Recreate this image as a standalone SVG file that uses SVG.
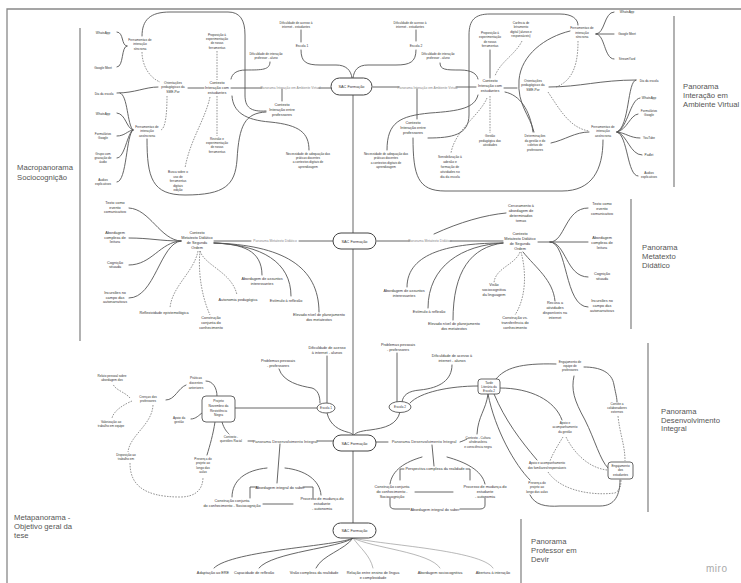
<svg xmlns="http://www.w3.org/2000/svg" width="741" height="583" viewBox="0 0 741 583">
<style>
text{font-family:"Liberation Sans",Arial,sans-serif;fill:#333;text-anchor:middle}
.t{font-size:3.8px}
.s{font-size:3.1px}
.s2{font-size:3.3px}
.lbl{font-size:3.3px;fill:#888}
.lb4{font-size:4px;fill:#444}
.pan{font-size:7.7px;fill:#555;text-anchor:start}
.miro{font-size:10px;fill:#aaa;text-anchor:start;letter-spacing:0.5px}
.c{fill:none;stroke:#555;stroke-width:0.9;stroke-linecap:round}
.cl{fill:none;stroke:#888;stroke-width:0.6;stroke-linecap:round}
.d{fill:none;stroke:#666;stroke-width:0.7;stroke-dasharray:1.6 1.2}
.sep{fill:none;stroke:#888;stroke-width:1.3}
.pill{fill:#fff;stroke:#444;stroke-width:1}
.box{fill:#fff;stroke:#555;stroke-width:0.9}
</style>
<rect width="741" height="583" fill="#fff"/>
<g id="frame">
<path class="sep" d="M7,583 V9 H741" stroke-width="1"/>
<path class="sep" d="M80,28 V341"/>
<path class="sep" d="M674,16 V187"/>
<path class="sep" d="M631,199 V329"/>
<path class="sep" d="M648,343 V512"/>
<path class="sep" d="M521,519 V583"/>
</g>
<g id="connectors">
<path class="c" d="M353,95 V233 M353,249 V435 M353,451 V523"/>
<path class="c" d="M117,32 C124,32 121,46 127,46 M117,67 C124,67 121,46 127,46"/>
<path class="c" d="M142,36 C142,20 150,12 170,12 H228 C240,12 245,20 245,35 V95 C245,107 250,112 266,111"/>
<path class="d" d="M142,52 C142,66 150,78 160,82"/>
<path class="c" d="M117,93 C135,93 145,87 158,87 M188,88 H204"/>
<path class="c" d="M120,93 C128,95 127,125 133,130 M117,113 C126,114 126,128 133,130 M117,136 C125,136 127,131 133,130 M117,158 C125,158 127,133 133,130 M117,182 C127,182 126,134 133,130"/>
<path class="d" d="M167,96 C167,110 166,128 161,130"/>
<path class="c" d="M147,139 C147,178 152,195 185,195 C225,195 235,185 237,160 C239,125 245,113 266,112"/>
<path class="c" d="M231,88 H262 M319,88 H331"/>
<path class="c" d="M282,89 V101"/>
<path class="c" d="M301,30 V42"/>
<path class="c" d="M301,50 C301,62 306,65 320,65 H336 C346,65 351,70 352,78"/>
<path class="c" d="M416,50 C416,62 410,65 396,65 H368 C358,65 354,70 353,78"/>
<path class="c" d="M270,62 C270,70 262,70 246,70 C236,70 232,74 231,79"/>
<path class="d" d="M217,51 V80 M217,96 V136"/>
<path class="d" d="M210,97 C205,120 190,140 185,168"/>
<path class="c" d="M232,96 C233,112 245,120 270,122 C300,125 309,133 309,150"/>
<path class="c" d="M373,87 H399 M456,87 H476"/>
<path class="c" d="M440,63 C440,70 446,70 460,70 C472,70 477,74 478,79"/>
<path class="c" d="M416,30 V41"/>
<path class="c" d="M490,50 V78"/>
<path class="d" d="M522,41 C515,55 500,62 495,76"/>
<path class="c" d="M504,88 H517"/>
<path class="c" d="M549,87 C580,87 600,80 636,80"/>
<path class="c" d="M636,80 C627,81 630,126 617,132 M640,98 C630,99 628,128 617,132 M638,114 C630,115 627,130 617,132 M640,138 C630,138 626,133 617,132 M642,155 C630,155 627,134 617,132 M638,176 C627,176 628,135 617,132"/>
<path class="c" d="M596,34 C605,34 604,12 614,12 M596,34 H614 M596,34 C605,34 604,59 614,59"/>
<path class="d" d="M578,41 C578,60 575,80 556,87"/>
<path class="d" d="M548,92 C560,110 570,128 589,131"/>
<path class="d" d="M490,96 V133"/>
<path class="c" d="M505,92 C520,95 530,110 533,132"/>
<path class="c" d="M570,31 C545,37 521,55 519,80 C517,105 530,115 534,132"/>
<path class="c" d="M551,143 C565,140 575,132 589,132"/>
<path class="c" d="M417,89 V119"/>
<path class="c" d="M478,95 C475,108 460,111 430,113 C400,116 387,122 387,150"/>
<path class="c" d="M428,138 C452,138 469,135 469,115 V35 C469,20 475,14 490,14 H560 C572,14 578,19 578,25"/>
<path class="c" d="M413,138 C413,176 418,191 445,191 H562 C592,191 603,170 603,140"/>
<path class="d" d="M487,98 C480,115 455,130 451,153"/>
<path class="c" d="M129,208 C150,209 160,240 181,241 M129,238 C150,238 160,241 181,241 M129,265 C152,265 160,242 181,241 M129,298 C155,298 160,243 181,241"/>
<path class="c" d="M214,241 H251 M299,241 H333"/>
<path class="c" d="M214,243 C242,244 262,250 262,275"/>
<path class="c" d="M214,243 C262,245 291,262 291,296"/>
<path class="c" d="M214,243 C282,245 319,266 319,312"/>
<path class="d" d="M200,251 C205,266 232,272 237,295"/>
<path class="d" d="M200,251 C198,270 201,295 210,315"/>
<path class="d" d="M198,251 C194,272 172,286 170,308"/>
<path class="c" d="M377,241 H410 M450,241 H503"/>
<path class="c" d="M434,234 C460,222 485,215 506,213"/>
<path class="c" d="M503,243 C452,243 407,252 407,287"/>
<path class="c" d="M503,243 C462,245 428,266 428,308"/>
<path class="c" d="M503,243 C471,247 453,271 453,320"/>
<path class="d" d="M520,252 C515,265 495,268 494,283"/>
<path class="d" d="M521,252 C526,270 527,296 515,315"/>
<path class="c" d="M523,252 C536,268 553,280 555,301"/>
<path class="c" d="M538,242 H550 C565,242 565,208 588,208 M550,242 H588 M550,242 C566,242 566,277 588,277 M550,242 C568,242 564,307 588,307"/>
<path class="c" d="M327,356 V403"/>
<path class="c" d="M279,369 C283,382 300,386 312,388 C318,390 320,396 320,403"/>
<path class="c" d="M327,413 C330,426 340,430 347,432 C351,433 353,434 353,435"/>
<path class="c" d="M235,408 H317"/>
<path class="c" d="M166,400 C175,400 178,388 186,385"/>
<path class="c" d="M206,381 C213,381 217,388 217,396"/>
<path class="c" d="M191,419 C196,419 199,415 202,413"/>
<path class="c" d="M222,422 C224,429 227,432 229,434"/>
<path class="c" d="M215,422 C213,435 210,445 207,455"/>
<path class="d" d="M130,398 C125,392 115,390 113,384"/>
<path class="d" d="M132,401 C125,404 114,410 112,418"/>
<path class="d" d="M153,405 C152,425 130,435 128,452"/>
<path class="d" d="M130,463 C130,482 140,497 180,497 C195,497 203,490 203,477"/>
<path class="c" d="M248,441 H253 M317,441 H333"/>
<path class="c" d="M280,444 L277,483"/>
<path class="c" d="M267,468 C246,470 232,480 232,497 M285,468 C305,470 320,480 321,495"/>
<path class="c" d="M250,498 V487 H257 M303,487 H313 V498"/>
<path class="c" d="M263,504 H293"/>
<path class="c" d="M400,412 C397,425 385,428 370,430 C360,431 355,433 354,435"/>
<path class="c" d="M376,442 H388 M460,442 C463,441 465,440 467,439"/>
<path class="c" d="M432,445 L434,466"/>
<path class="c" d="M422,457 C405,462 392,470 390,484 M447,457 C465,462 482,470 485,484"/>
<path class="c" d="M400,480 V469 H404 M466,469 H470 V480"/>
<path class="c" d="M415,492 H453"/>
<path class="c" d="M390,498 V505 Q390,509 395,509 H410 M460,509 H480 Q485,509 485,505 V498"/>
<path class="c" d="M452,365 C452,380 440,388 420,390 C408,391 403,395 402,402"/>
<path class="c" d="M397,353 V402"/>
<path class="c" d="M410,403 C420,392 450,386 478,386"/>
<path class="c" d="M488,394 C486,410 478,416 477,434"/>
<path class="c" d="M496,379 C505,368 520,363 556,364"/>
<path class="c" d="M584,367 C600,367 612,372 614,385 C616,395 617,398 617,402"/>
<path class="c" d="M574,376 C571,390 574,400 585,420 C595,440 600,460 608,468"/>
<path class="c" d="M500,388 C530,388 555,400 562,420"/>
<path class="c" d="M494,394 C505,420 520,440 537,460"/>
<path class="c" d="M488,394 C495,430 515,465 530,480"/>
<path class="c" d="M530,495 C535,505 545,507 560,506 H600 C615,506 620,495 620,480"/>
<path class="d" d="M618,416 C620,435 625,445 625,461"/>
<path class="d" d="M566,437 C575,455 590,468 607,470"/>
<path class="d" d="M563,437 C558,445 552,455 550,461"/>
<path class="d" d="M548,472 C560,490 590,496 615,493 C620,490 621,486 621,480"/>
<path class="c" d="M353,538 C340,546 232,550 214,568"/>
<path class="c" d="M353,538 C340,548 272,552 259,568"/>
<path class="c" d="M353,538 C345,550 322,555 316,568"/>
<path class="cl" d="M353,538 C360,548 370,555 373,568"/>
<path class="cl" d="M353,538 C372,548 430,552 440,568"/>
<path class="cl" d="M353,538 C382,545 482,550 493,568"/>
</g>
<g id="n-sac1"><rect class="pill" x="331" y="78" width="41" height="17" rx="8.5"/><text class="t" x="351.5" y="88">SAC Formação</text></g>
<g id="n-sac2"><rect class="pill" x="333" y="233" width="43" height="16" rx="8"/><text class="t" x="354.5" y="242.5">SAC Formação</text></g>
<g id="n-sac3"><rect class="pill" x="333" y="435" width="43" height="16" rx="8"/><text class="t" x="354.5" y="444.5">SAC Formação</text></g>
<g id="n-sac4"><rect class="pill" x="333" y="523" width="43" height="15" rx="7.5"/><text class="t" x="354.5" y="532">SAC Formação</text></g>
<g id="lbl-piav-l"><text class="lbl" x="290.5" y="88.8">Panorama Interação em Ambiente Virtual</text></g>
<g id="lbl-piav-r"><text class="lbl" x="427.5" y="88.8">Panorama Interação em Ambiente Virtual</text></g>
<g id="lbl-pmd-l"><text class="lbl" x="275" y="242.3">Panorama Metatexto Didático</text></g>
<g id="lbl-pmd-r"><text class="lbl" x="430" y="242.3">Panorama Metatexto Didático</text></g>
<g id="lbl-pdi-l"><text class="lb4" x="285" y="442.5">Panorama Desenvolvimento Integral</text></g>
<g id="lbl-pdi-r"><text class="lb4" x="424" y="443.3">Panorama Desenvolvimento Integral</text></g>
<g id="n-wa1"><text class="s" x="103" y="34">WhatsApp</text></g>
<g id="n-meet1"><text class="s" x="103" y="69">Google Meet</text></g>
<g id="n-fsinc-l"><text class="s2" x="140" y="40.5"><tspan x="140">Ferramentas de</tspan><tspan x="140" dy="4.6">interação</tspan><tspan x="140" dy="4.6">síncrona</tspan></text></g>
<g id="n-orient-l"><text class="s2" x="173" y="84"><tspan x="173">Orientações</tspan><tspan x="173" dy="4.4">pedagógicas da</tspan><tspan x="173" dy="4.4">SME-Por</tspan></text></g>
<g id="n-dia-l"><text class="s" x="104" y="94.5">Dia da escola</text></g>
<g id="n-wa2"><text class="s" x="103" y="114.5">WhatsApp</text></g>
<g id="n-form-l"><text class="s" x="103" y="135"><tspan x="103">Formulários</tspan><tspan x="103" dy="4.2">Google</tspan></text></g>
<g id="n-grupo"><text class="s" x="103" y="154.5"><tspan x="103">Grupo com</tspan><tspan x="103" dy="4.3">gravação de</tspan><tspan x="103" dy="4.3">áudio</tspan></text></g>
<g id="n-aud-l"><text class="s" x="103" y="181"><tspan x="103">Áudios</tspan><tspan x="103" dy="4.2">explicativos</tspan></text></g>
<g id="n-fasinc-l"><text class="s2" x="147" y="127.5"><tspan x="147">Ferramentas de</tspan><tspan x="147" dy="4.5">interação</tspan><tspan x="147" dy="4.5">assíncrona</tspan></text></g>
<g id="n-busca"><text class="s" x="178" y="173"><tspan x="178">Busca sobre o</tspan><tspan x="178" dy="4.5">uso de</tspan><tspan x="178" dy="4.5">ferramentas</tspan><tspan x="178" dy="4.5">digitais</tspan><tspan x="178" dy="4.5">edição</tspan></text></g>
<g id="n-prop-l"><text class="s" x="217" y="35.5"><tspan x="217">Proposição à</tspan><tspan x="217" dy="4.4">experimentação</tspan><tspan x="217" dy="4.4">de novas</tspan><tspan x="217" dy="4.4">ferramentas</tspan></text></g>
<g id="n-difint-l"><text class="s" x="266" y="55"><tspan x="266">Dificuldade de interação</tspan><tspan x="266" dy="4.4">professor - aluno</tspan></text></g>
<g id="n-difac1"><text class="s" x="296" y="23.5"><tspan x="296">Dificuldade de acesso à</tspan><tspan x="296" dy="4.2">internet - estudantes</tspan></text></g>
<g id="n-escola1-top"><text class="s2" x="302" y="47">Escola 1</text></g>
<g id="n-ctx-est-l"><text class="t" x="217" y="83.5"><tspan x="217">Contexto</tspan><tspan x="217" dy="5">Interação com</tspan><tspan x="217" dy="5">estudantes</tspan></text></g>
<g id="n-ctx-prof-l"><text class="t" x="282" y="105.5"><tspan x="282">Contexto</tspan><tspan x="282" dy="5">Interação entre</tspan><tspan x="282" dy="5">professores</tspan></text></g>
<g id="n-nec-l"><text class="s" x="308" y="154.5"><tspan x="308">Necessidade de adequação das</tspan><tspan x="308" dy="4.4">práticas docentes</tspan><tspan x="308" dy="4.4">a contextos digitais de</tspan><tspan x="308" dy="4.4">aprendizagem</tspan></text></g>
<g id="n-rev-l"><text class="s" x="217" y="139.5"><tspan x="217">Revisão e</tspan><tspan x="217" dy="4.4">experimentação</tspan><tspan x="217" dy="4.4">de novas</tspan><tspan x="217" dy="4.4">ferramentas</tspan></text></g>
<g id="n-difac2"><text class="s" x="410" y="23.5"><tspan x="410">Dificuldade de acesso à</tspan><tspan x="410" dy="4.2">internet - estudantes</tspan></text></g>
<g id="n-escola2-top"><text class="s2" x="416" y="46.5">Escola 2</text></g>
<g id="n-difint-r"><text class="s" x="438" y="55"><tspan x="438">Dificuldade de interação</tspan><tspan x="438" dy="4.4">professor - aluno</tspan></text></g>
<g id="n-ctx-est-r"><text class="t" x="490" y="82"><tspan x="490">Contexto</tspan><tspan x="490" dy="5">Interação com</tspan><tspan x="490" dy="5">estudantes</tspan></text></g>
<g id="n-prop-r"><text class="s" x="490" y="34"><tspan x="490">Proposição à</tspan><tspan x="490" dy="4.4">experimentação</tspan><tspan x="490" dy="4.4">de novas</tspan><tspan x="490" dy="4.4">ferramentas</tspan></text></g>
<g id="n-car"><text class="s" x="521" y="24"><tspan x="521">Carência de</tspan><tspan x="521" dy="4.4">letramento</tspan><tspan x="521" dy="4.4">digital (alunos e</tspan><tspan x="521" dy="4.4">responsáveis)</tspan></text></g>
<g id="n-orient-r"><text class="s2" x="533" y="82"><tspan x="533">Orientações</tspan><tspan x="533" dy="4.4">pedagógicas da</tspan><tspan x="533" dy="4.4">SME-Por</tspan></text></g>
<g id="n-gestao"><text class="s" x="490" y="137"><tspan x="490">Gestão</tspan><tspan x="490" dy="4.5">pedagógica das</tspan><tspan x="490" dy="4.5">atividades</tspan></text></g>
<g id="n-determ"><text class="s" x="535" y="137"><tspan x="535">Determinações</tspan><tspan x="535" dy="4.5">da gestão e do</tspan><tspan x="535" dy="4.5">coletivo de</tspan><tspan x="535" dy="4.5">professores</tspan></text></g>
<g id="n-ctx-prof-r"><text class="t" x="413" y="124"><tspan x="413">Contexto</tspan><tspan x="413" dy="5">Interação entre</tspan><tspan x="413" dy="5">professores</tspan></text></g>
<g id="n-nec-r"><text class="s" x="386" y="155"><tspan x="386">Necessidade de adequação das</tspan><tspan x="386" dy="4.4">práticas docentes</tspan><tspan x="386" dy="4.4">a contextos digitais de</tspan><tspan x="386" dy="4.4">aprendizagem</tspan></text></g>
<g id="n-sens"><text class="s2" x="450" y="158"><tspan x="450">Sensibilização à</tspan><tspan x="450" dy="5">adesão e</tspan><tspan x="450" dy="5">formação de</tspan><tspan x="450" dy="5">atividades no</tspan><tspan x="450" dy="5">dia da escola</tspan></text></g>
<g id="n-fsinc-r"><text class="s2" x="582" y="29"><tspan x="582">Ferramentas de</tspan><tspan x="582" dy="4.5">interação</tspan><tspan x="582" dy="4.5">síncrona</tspan></text></g>
<g id="n-wa-r1"><text class="s" x="627" y="12.5">WhatsApp</text></g>
<g id="n-meet-r"><text class="s" x="627" y="35">Google Meet</text></g>
<g id="n-stream"><text class="s" x="627" y="60">StreamYard</text></g>
<g id="n-dia-r"><text class="s" x="649" y="81.5">Dia da escola</text></g>
<g id="n-wa-r2"><text class="s" x="649" y="98.5">WhatsApp</text></g>
<g id="n-form-r"><text class="s" x="649" y="112"><tspan x="649">Formulários</tspan><tspan x="649" dy="4.4">Google</tspan></text></g>
<g id="n-yt"><text class="s" x="649" y="138.5">YouTube</text></g>
<g id="n-padlet"><text class="s" x="649" y="155.5">Padlet</text></g>
<g id="n-aud-r"><text class="s" x="649" y="174"><tspan x="649">Áudios</tspan><tspan x="649" dy="4.4">explicativos</tspan></text></g>
<g id="n-fasinc-r"><text class="s2" x="603" y="127.5"><tspan x="603">Ferramentas de</tspan><tspan x="603" dy="4.5">interação</tspan><tspan x="603" dy="4.5">assíncrona</tspan></text></g>
<g id="n-txt-l"><text class="t" x="115" y="204"><tspan x="115">Texto como</tspan><tspan x="115" dy="4.6">evento</tspan><tspan x="115" dy="4.6">comunicativo</tspan></text></g>
<g id="n-abc-l"><text class="t" x="115" y="234"><tspan x="115">Abordagem</tspan><tspan x="115" dy="4.6">complexa de</tspan><tspan x="115" dy="4.6">leitura</tspan></text></g>
<g id="n-cog-l"><text class="t" x="115" y="263.5"><tspan x="115">Cognição</tspan><tspan x="115" dy="4.6">situada</tspan></text></g>
<g id="n-inc-l"><text class="t" x="115" y="294"><tspan x="115">Incursões no</tspan><tspan x="115" dy="4.6">campo das</tspan><tspan x="115" dy="4.6">autonarrativas</tspan></text></g>
<g id="n-ctxmeta-l"><text class="t" x="197" y="233.5"><tspan x="197">Contexto</tspan><tspan x="197" dy="5">Metatexto Didático</tspan><tspan x="197" dy="5">de Segunda</tspan><tspan x="197" dy="5">Ordem</tspan></text></g>
<g id="n-refl"><text class="t" x="164" y="313.5">Reflexividade epistemológica</text></g>
<g id="n-auto"><text class="t" x="238" y="300.5">Autonomia pedagógica</text></g>
<g id="n-constr-l"><text class="t" x="211" y="319"><tspan x="211">Construção</tspan><tspan x="211" dy="5">conjunta do</tspan><tspan x="211" dy="5">conhecimento</tspan></text></g>
<g id="n-abass-l"><text class="t" x="262" y="279.5"><tspan x="262">Abordagem de assuntos</tspan><tspan x="262" dy="5">interessantes</tspan></text></g>
<g id="n-estim-l"><text class="t" x="286" y="301.5">Estímulo à reflexão</text></g>
<g id="n-elev-l"><text class="t" x="319" y="316"><tspan x="319">Elevado nível de planejamento</tspan><tspan x="319" dy="5">dos metatextos</tspan></text></g>
<g id="n-cerc"><text class="t" x="521" y="206.5"><tspan x="521">Cerceamento à</tspan><tspan x="521" dy="5">abordagem de</tspan><tspan x="521" dy="5">determinados</tspan><tspan x="521" dy="5">temas</tspan></text></g>
<g id="n-ctxmeta-r"><text class="t" x="520" y="234.5"><tspan x="520">Contexto</tspan><tspan x="520" dy="5">Metatexto Didático</tspan><tspan x="520" dy="5">de Segunda</tspan><tspan x="520" dy="5">Ordem</tspan></text></g>
<g id="n-abass-r"><text class="t" x="404" y="291.5"><tspan x="404">Abordagem de assuntos</tspan><tspan x="404" dy="5">interessantes</tspan></text></g>
<g id="n-estim-r"><text class="t" x="429" y="313">Estímulo à reflexão</text></g>
<g id="n-elev-r"><text class="t" x="454" y="324.5"><tspan x="454">Elevado nível de planejamento</tspan><tspan x="454" dy="5">dos metatextos</tspan></text></g>
<g id="n-visao"><text class="t" x="494" y="285.5"><tspan x="494">Visão</tspan><tspan x="494" dy="5">sociocognitiva</tspan><tspan x="494" dy="5">da linguagem</tspan></text></g>
<g id="n-constrvs"><text class="t" x="515" y="318.5"><tspan x="515">Construção vs.</tspan><tspan x="515" dy="5">transferência do</tspan><tspan x="515" dy="5">conhecimento</tspan></text></g>
<g id="n-recusa"><text class="t" x="555" y="304"><tspan x="555">Recusa a</tspan><tspan x="555" dy="5">atividades</tspan><tspan x="555" dy="5">disponíveis na</tspan><tspan x="555" dy="5">internet</tspan></text></g>
<g id="n-txt-r"><text class="t" x="602" y="204.5"><tspan x="602">Texto como</tspan><tspan x="602" dy="5">evento</tspan><tspan x="602" dy="5">comunicativo</tspan></text></g>
<g id="n-abc-r"><text class="t" x="602" y="238.5"><tspan x="602">Abordagem</tspan><tspan x="602" dy="5">complexa de</tspan><tspan x="602" dy="5">leitura</tspan></text></g>
<g id="n-cog-r"><text class="t" x="602" y="274.5"><tspan x="602">Cognição</tspan><tspan x="602" dy="5">situada</tspan></text></g>
<g id="n-inc-r"><text class="t" x="602" y="301.5"><tspan x="602">Incursões no</tspan><tspan x="602" dy="5">campo das</tspan><tspan x="602" dy="5">autonarrativas</tspan></text></g>
<g id="n-difac3"><text class="t" x="327" y="348.5"><tspan x="327">Dificuldade de acesso</tspan><tspan x="327" dy="5">à internet - alunos</tspan></text></g>
<g id="n-prob1"><text class="t" x="278" y="361.5"><tspan x="278">Problemas pessoais</tspan><tspan x="278" dy="5">- professores</tspan></text></g>
<g id="n-relato"><text class="s" x="112" y="376.5"><tspan x="112">Relato pessoal sobre</tspan><tspan x="112" dy="4.4">abordagem dos</tspan></text></g>
<g id="n-crencas"><text class="s" x="148" y="398"><tspan x="148">Crenças dos</tspan><tspan x="148" dy="4.4">professores</tspan></text></g>
<g id="n-valor"><text class="s" x="111" y="423"><tspan x="111">Valorização ao</tspan><tspan x="111" dy="4.4">trabalho em equipe</tspan></text></g>
<g id="n-disp"><text class="s" x="126" y="455.5"><tspan x="126">Disposição ao</tspan><tspan x="126" dy="4.4">trabalho em</tspan></text></g>
<g id="n-praticas"><text class="s2" x="196" y="379"><tspan x="196">Práticas</tspan><tspan x="196" dy="4.8">docentes</tspan><tspan x="196" dy="4.8">anteriores</tspan></text></g>
<g id="n-apoio-l"><text class="s" x="179" y="418.5"><tspan x="179">Apoio da</tspan><tspan x="179" dy="4.4">gestão</tspan></text></g>
<g id="n-projeto"><rect class="box" x="202" y="396" width="33" height="26" rx="4"/><text class="s2" x="218.5" y="402"><tspan x="218.5">Projeto</tspan><tspan x="218.5" dy="4.8">Novembro da</tspan><tspan x="218.5" dy="4.8">Resistência</tspan><tspan x="218.5" dy="4.8">Negra</tspan></text></g>
<g id="n-escola1"><ellipse class="box" cx="326" cy="408" rx="9" ry="5"/><text class="s" x="326" y="409.2">Escola 1</text></g>
<g id="n-ctxrac"><text class="s" x="231" y="437.5"><tspan x="231">Contexto -</tspan><tspan x="231" dy="4.4">questões Racial</tspan></text></g>
<g id="n-pres-l"><text class="s" x="203" y="459.5"><tspan x="203">Presença do</tspan><tspan x="203" dy="4.5">projeto ao</tspan><tspan x="203" dy="4.5">longo das</tspan><tspan x="203" dy="4.5">aulas</tspan></text></g>
<g id="n-abint-l"><text class="t" x="280" y="488.8">Abordagem integral do saber</text></g>
<g id="n-constr3-l"><text class="t" x="232" y="501.5"><tspan x="232">Construção conjunta</tspan><tspan x="232" dy="5">do conhecimento - Sociocognição</tspan></text></g>
<g id="n-proc-l"><text class="t" x="322" y="499.5"><tspan x="322">Processo de mudança do</tspan><tspan x="322" dy="5">estudante</tspan><tspan x="322" dy="5">- autonomia</tspan></text></g>
<g id="n-prob2"><text class="t" x="398" y="345.5"><tspan x="398">Problemas pessoais</tspan><tspan x="398" dy="5">- professores</tspan></text></g>
<g id="n-difac4"><text class="t" x="452" y="357"><tspan x="452">Dificuldade de acesso à</tspan><tspan x="452" dy="5">internet - alunos</tspan></text></g>
<g id="n-escola2"><ellipse class="box" cx="400" cy="407" rx="11" ry="5.5"/><text class="s" x="400" y="408.3">Escola 2</text></g>
<g id="n-projr"><rect class="box" x="478" y="379" width="22" height="15" rx="3"/><text class="s" x="489" y="383.5"><tspan x="489">Tarde</tspan><tspan x="489" dy="4.2">Literária da</tspan><tspan x="489" dy="4.2">Escola 2</tspan></text></g>
<g id="n-engeq"><text class="s" x="570" y="362.5"><tspan x="570">Engajamento de</tspan><tspan x="570" dy="4.4">equipe de</tspan><tspan x="570" dy="4.4">professores</tspan></text></g>
<g id="n-convite"><text class="s" x="617" y="404.5"><tspan x="617">Convite a</tspan><tspan x="617" dy="4.4">colaboradores</tspan><tspan x="617" dy="4.4">externos</tspan></text></g>
<g id="n-apoioges-r"><text class="s" x="565" y="423.5"><tspan x="565">Apoio e</tspan><tspan x="565" dy="4.6">acompanhamento</tspan><tspan x="565" dy="4.6">da gestão</tspan></text></g>
<g id="n-apoiofam"><text class="s" x="547" y="464"><tspan x="547">Apoio e acompanhamento</tspan><tspan x="547" dy="4.6">dos familiares/responsáveis</tspan></text></g>
<g id="n-pres-r"><text class="s" x="537" y="483.5"><tspan x="537">Presença do</tspan><tspan x="537" dy="4.6">projeto ao</tspan><tspan x="537" dy="4.6">longo das aulas</tspan></text></g>
<g id="n-engest"><rect class="box" x="608" y="462" width="25" height="17" rx="3"/><text class="s" x="620.5" y="467"><tspan x="620.5">Engajamento</tspan><tspan x="620.5" dy="4.4">dos</tspan><tspan x="620.5" dy="4.4">estudantes</tspan></text></g>
<g id="n-ctxcult"><text class="s" x="478" y="438.5"><tspan x="478">Contexto - Cultura</tspan><tspan x="478" dy="4.8">afrobrasileira</tspan><tspan x="478" dy="4.8">e consciência negra</tspan></text></g>
<g id="n-persp"><text class="t" x="435" y="470.3">Perspectiva complexa da realidade</text></g>
<g id="n-constr3-r"><text class="t" x="392" y="487.5"><tspan x="392">Construção conjunta</tspan><tspan x="392" dy="5">do conhecimento -</tspan><tspan x="392" dy="5">Sociocognição</tspan></text></g>
<g id="n-proc-r"><text class="t" x="485" y="487.5"><tspan x="485">Processo de mudança do</tspan><tspan x="485" dy="5">estudante</tspan><tspan x="485" dy="5">- autonomia</tspan></text></g>
<g id="n-abint-r"><text class="t" x="435" y="510.5">Abordagem integral do saber</text></g>
<g id="n-adapt"><text class="t" x="213" y="574">Adaptação ao ERE</text></g>
<g id="n-capac"><text class="t" x="254" y="574">Capacidade de reflexão</text></g>
<g id="n-visaoc"><text class="t" x="314" y="574">Visão complexa da realidade</text></g>
<g id="n-relac"><text class="t" x="373" y="574"><tspan x="373">Relação entre ensino de língua</tspan><tspan x="373" dy="4.6">e complexidade</tspan></text></g>
<g id="n-absoc"><text class="t" x="440" y="574">Abordagem sociocognitiva</text></g>
<g id="n-abert"><text class="t" x="493" y="574">Abertura à interação</text></g>
<g id="p-macro"><text class="pan" x="17" y="170"><tspan x="17">Macropanorama</tspan><tspan x="17" dy="9.5">Sociocognição</tspan></text></g>
<g id="p-piav"><text class="pan" x="683" y="89"><tspan x="683">Panorama</tspan><tspan x="683" dy="9">Interação em</tspan><tspan x="683" dy="9">Ambiente Virtual</tspan></text></g>
<g id="p-pmd"><text class="pan" x="642" y="250"><tspan x="642">Panorama</tspan><tspan x="642" dy="9">Metatexto</tspan><tspan x="642" dy="9">Didático</tspan></text></g>
<g id="p-pdi"><text class="pan" x="661" y="414"><tspan x="661">Panorama</tspan><tspan x="661" dy="8.7">Desenvolvimento</tspan><tspan x="661" dy="8.7">Integral</tspan></text></g>
<g id="p-ppd"><text class="pan" x="531" y="544"><tspan x="531">Panorama</tspan><tspan x="531" dy="9">Professor em</tspan><tspan x="531" dy="9">Devir</tspan></text></g>
<g id="p-meta"><text class="pan" x="14" y="520"><tspan x="14">Metapanorama -</tspan><tspan x="14" dy="9">Objetivo geral da</tspan><tspan x="14" dy="9">tese</tspan></text></g>
<g id="miro"><text class="miro" x="706" y="572">miro</text></g>
</svg>
